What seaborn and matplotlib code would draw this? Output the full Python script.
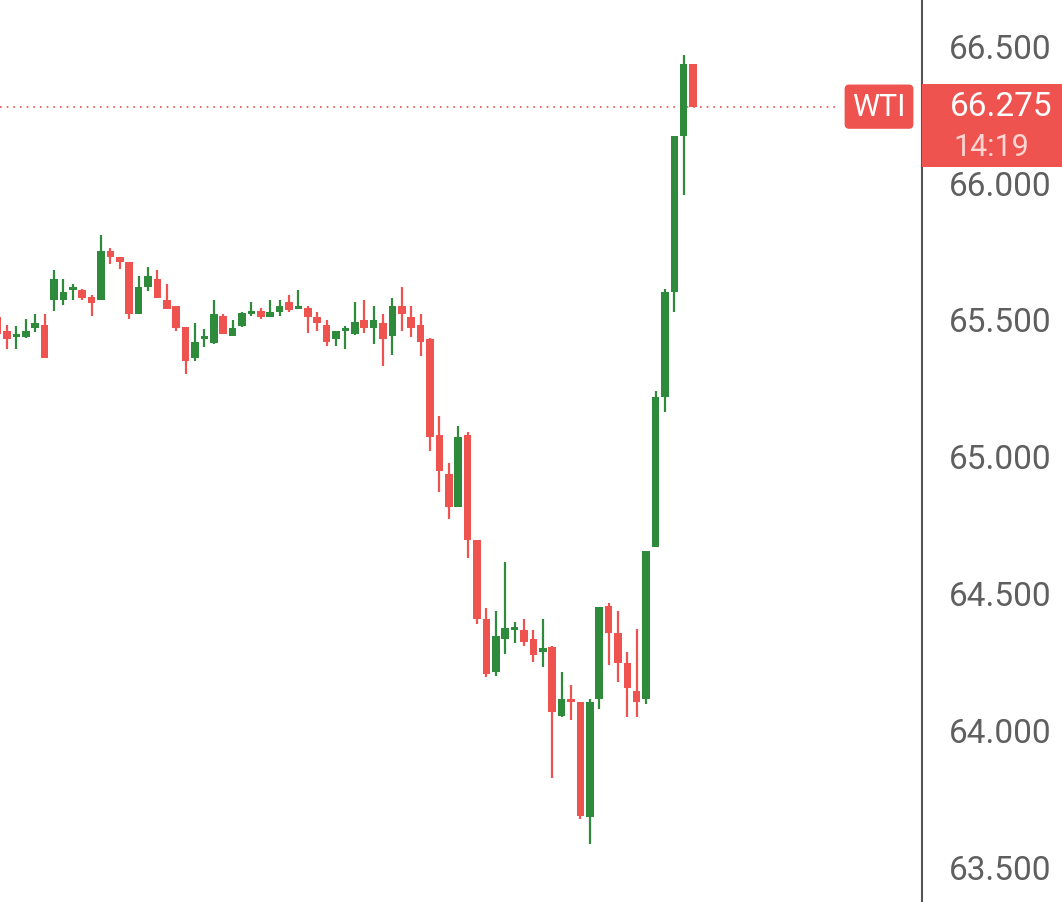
import numpy as np
import matplotlib.pyplot as plt
import seaborn as sns

sns.set_style("white")
plt.rcParams['font.family'] = ['Roboto', 'DejaVu Sans']

opens = [65.507, 65.456, 65.434, 65.434, 65.467, 65.478, 65.569, 65.569, 65.606, 65.606,
         65.580, 65.569, 65.748, 65.726, 65.708, 65.518, 65.617, 65.646, 65.569, 65.547,
         65.471, 65.358, 65.427, 65.412, 65.511, 65.438, 65.474, 65.518, 65.529, 65.507,
         65.525, 65.562, 65.536, 65.540, 65.507, 65.478, 65.427, 65.456, 65.445, 65.496,
         65.467, 65.485, 65.438, 65.547, 65.507, 65.478, 65.427, 65.077, 64.934, 64.814,
         65.077, 64.693, 64.405, 64.212, 64.332, 64.365, 64.365, 64.332, 64.284, 64.303,
         64.051, 64.109, 64.102, 63.682, 64.113, 64.452, 64.354, 64.244, 64.142, 64.113,
         64.668, 65.215, 65.598, 66.168, 66.431]
highs = [65.547, 65.478, 65.474, 65.500, 65.518, 65.518, 65.679, 65.646, 65.628, 65.610,
         65.588, 65.807, 65.759, 65.726, 65.708, 65.657, 65.690, 65.679, 65.628, 65.547,
         65.471, 65.485, 65.463, 65.569, 65.518, 65.496, 65.525, 65.562, 65.540, 65.569,
         65.569, 65.588, 65.606, 65.547, 65.525, 65.496, 65.456, 65.474, 65.562, 65.569,
         65.547, 65.518, 65.577, 65.617, 65.547, 65.518, 65.430, 65.146, 64.974, 65.109,
         65.088, 64.693, 64.445, 64.434, 64.613, 64.394, 64.405, 64.365, 64.405, 64.306,
         64.212, 64.164, 64.102, 64.113, 64.449, 64.463, 64.434, 64.284, 64.368, 64.653,
         65.237, 65.610, 66.168, 66.464, 66.431]
lows = [65.390, 65.390, 65.390, 65.430, 65.453, 65.358, 65.529, 65.551, 65.569, 65.569,
        65.511, 65.569, 65.701, 65.682, 65.500, 65.518, 65.602, 65.577, 65.536, 65.456,
        65.299, 65.347, 65.398, 65.409, 65.445, 65.438, 65.471, 65.511, 65.500, 65.507,
        65.511, 65.525, 65.536, 65.449, 65.456, 65.401, 65.401, 65.390, 65.442, 65.449,
        65.409, 65.328, 65.369, 65.456, 65.434, 65.365, 65.018, 64.868, 64.770, 64.814,
        64.628, 64.387, 64.193, 64.197, 64.277, 64.317, 64.306, 64.248, 64.230, 63.825,
        64.047, 64.036, 63.675, 63.584, 64.076, 64.237, 64.175, 64.047, 64.047, 64.095,
        64.668, 65.160, 65.525, 65.953, 66.275]
closes = [65.445, 65.427, 65.442, 65.456, 65.485, 65.358, 65.646, 65.598, 65.613, 65.577,
          65.558, 65.748, 65.726, 65.708, 65.518, 65.617, 65.657, 65.577, 65.536, 65.467,
          65.347, 65.416, 65.430, 65.518, 65.445, 65.467, 65.522, 65.529, 65.507, 65.525,
          65.547, 65.533, 65.547, 65.507, 65.485, 65.416, 65.456, 65.460, 65.489, 65.467,
          65.496, 65.427, 65.547, 65.518, 65.467, 65.416, 65.069, 64.945, 64.814, 65.069,
          64.693, 64.405, 64.204, 64.343, 64.372, 64.372, 64.321, 64.273, 64.299, 64.065,
          64.113, 64.102, 63.686, 64.102, 64.449, 64.354, 64.244, 64.153, 64.102, 64.653,
          65.215, 65.598, 66.168, 66.431, 66.275]
last_price = 66.275
countdown = "14:19"
yticks = [63.5, 64.0, 64.5, 65.0, 65.5, 66.0, 66.5]

green = "#2e8b3c"
red = "#ef5350"

fig = plt.figure(figsize=(10.62, 9.03), dpi=100)
ax = fig.add_axes([0, 0, 922 / 1062, 1])

x = np.arange(len(opens))
o = np.array(opens)
c = np.array(closes)
cols = [green if cc >= oo else red for oo, cc in zip(o, c)]
ax.vlines(x, lows, highs, colors=cols, linewidth=1.6, zorder=2)
bottom = np.minimum(o, c)
height = np.maximum(np.abs(c - o), 0.012)
ax.bar(x, height, bottom=bottom, width=0.8, color=cols, linewidth=0, zorder=3)

ax.set_xlim(0.255, 98.35)
ax.set_ylim(63.372, 66.668)
ax.axhline(last_price, xmin=0, xmax=838 / 922, color=red, linestyle=(0, (1, 3)), linewidth=1.2, zorder=1)

for s in ["top", "left", "bottom"]:
    ax.spines[s].set_visible(False)
ax.spines["right"].set_color("#555555")
ax.spines["right"].set_linewidth(1.5)
ax.set_xticks([])
ax.yaxis.tick_right()
ax.set_yticks(yticks)
ax.set_yticklabels([f"{v:.3f}" for v in yticks], fontsize=24, color="#5f5f5f")
ax.tick_params(axis="y", length=0, pad=19)

# WTI tag and price box
ax.text(879 / 922, last_price, "WTI", transform=ax.get_yaxis_transform(), ha="center", va="center",
        fontsize=22, color="white",
        bbox=dict(boxstyle="round,pad=0.25,rounding_size=0.15", fc=red, ec="none"), zorder=5)
fig.patches.append(plt.Rectangle((922 / 1062, 1 - 168 / 903), 140 / 1062, 83 / 903,
                                 transform=fig.transFigure, fc=red, ec="none", zorder=5))
fig.text(1001 / 1062, 1 - 107 / 903, f"{last_price:.3f}", ha="center", va="center", fontsize=24, color="white", zorder=6)
fig.text(991 / 1062, 1 - 147 / 903, countdown, ha="center", va="center", fontsize=22, color="#ffd6d3", zorder=6)

fig.savefig("out.png", dpi=100)
